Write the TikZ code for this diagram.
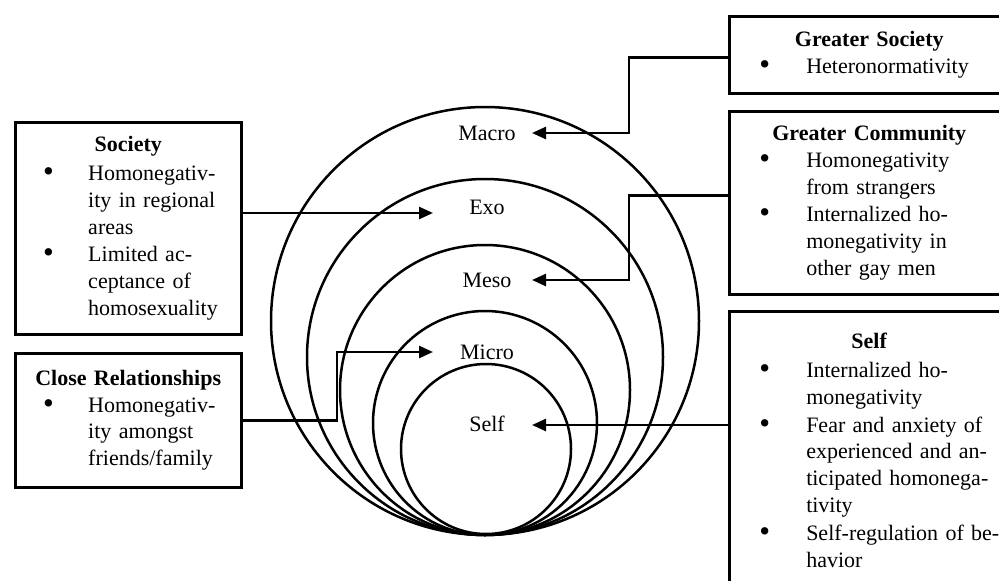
\documentclass[tikz,border=0pt]{standalone}
\usepackage{fontspec}
\setmainfont{Liberation Serif}
\usetikzlibrary{arrows.meta}
\newlength\bind
\newlength\bpos
\newcommand{\bi}[1]{\makebox[\bind][l]{\hspace*{\bpos}\raisebox{-0.1ex}{\scalebox{1.4}{\textbullet}}}#1}
\newcommand{\bc}[1]{\hspace*{\bind}#1}
\newcommand{\btitle}[1]{\makebox[\hsize]{\textbf{#1}}}
\tikzset{
  box/.style={draw, line width=2.5pt, inner sep=0pt, align=left,
    font=\fontsize{22}{26.8}\selectfont},
  leftbox/.style={box, execute at begin node={\setlength\bind{73pt}\setlength\bpos{28pt}}},
  rightbox/.style={box, execute at begin node={\setlength\bind{77pt}\setlength\bpos{30pt}}},
  ring/.style={line width=2.5pt},
  lvl/.style={font=\fontsize{22}{24}\selectfont, inner sep=0pt, text height=1.4ex, text depth=0.2ex},
  arr/.style={line width=2.5pt, -{Triangle[length=14pt,width=12pt]}}
}
\begin{document}
\begin{tikzpicture}[x=1pt,y=-1pt]
\useasboundingbox (0,0) rectangle (999,581);
\clip (0,0) rectangle (999,581);
\fill[white] (0,0) rectangle (999,581);

% nested circles, tangent at the bottom
\draw[ring] (485,321) circle[radius=214];
\draw[ring] (485,357) circle[radius=178];
\draw[ring] (485,390) circle[radius=145];
\draw[ring] (485,423) circle[radius=112];
\draw[ring] (486,449) circle[radius=85];

% level labels
\node[lvl] (macro) at (487,138) {Macro};
\node[lvl] (exo)   at (487,212) {Exo};
\node[lvl] (meso)  at (487,285) {Meso};
\node[lvl] (micro) at (487,357) {Micro};
\node[lvl] (self)  at (487,429) {Self};

% arrow tips and junctions
\coordinate (tMacro) at (532,133);
\coordinate (tExo)   at (433,213);
\coordinate (tMeso)  at (532,280);
\coordinate (tMicro) at (433,352);
\coordinate (tSelf)  at (532,425);
\coordinate (jR) at (629,0);
\coordinate (jL) at (337,0);

% left boxes
\node[leftbox, minimum width=226pt, minimum height=212pt, text width=226pt, anchor=north west] (society) at (14,121) {%
\btitle{Society}\\[2pt]
\bi{Homonegativ-}\\
\bc{ity in regional}\\
\bc{areas}\\[1pt]
\bi{Limited ac-}\\
\bc{ceptance of}\\
\bc{homosexuality}};

\node[leftbox, minimum width=226pt, minimum height=134pt, text width=226pt, anchor=north west] (close) at (14,352) {%
\btitle{Close Relationships}\\
\bi{Homonegativ-}\\
\bc{ity amongst}\\
\bc{friends/family}};

% right boxes
\node[rightbox, minimum width=280pt, minimum height=77pt, text width=280pt, anchor=north west] (gsoc) at (728,15) {%
\btitle{Greater Society}\\
\bi{Heteronormativity}};

\node[rightbox, minimum width=280pt, minimum height=183pt, text width=280pt, anchor=north west] (gcom) at (728,110) {%
\btitle{Greater Community}\\
\bi{Homonegativity}\\
\bc{from strangers}\\[1pt]
\bi{Internalized ho-}\\
\bc{monegativity in}\\
\bc{other gay men}};

\node[rightbox, minimum width=280pt, minimum height=278pt, text width=280pt, anchor=north west] (sbox) at (728,310) {%
\btitle{Self}\\[2pt]
\bi{Internalized ho-}\\
\bc{monegativity}\\[1pt]
\bi{Fear and anxiety of}\\
\bc{experienced and an-}\\
\bc{ticipated homonega-}\\
\bc{tivity}\\[1pt]
\bi{Self-regulation of be-}\\
\bc{havior}};

% connectors
\draw[arr] ([yshift=-2.5pt]gsoc.west) -- ([yshift=-2.5pt]gsoc.west -| jR) |- (tMacro);
\draw[arr] (society.east |- tExo) -- (tExo);
\draw[arr] ([yshift=7.5pt]gcom.west) -- ([yshift=7.5pt]gcom.west -| jR) |- (tMeso);
\draw[arr] (close.east) -- (close.east -| jL) |- (tMicro);
\draw[arr] (sbox.west |- tSelf) -- (tSelf);
\end{tikzpicture}
\end{document}
